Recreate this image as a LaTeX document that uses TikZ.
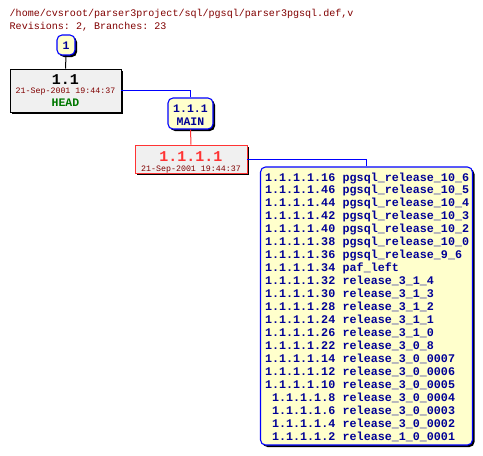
\documentclass[tikz,border=0pt]{standalone}
\usepackage{fontspec}
\setmonofont{Liberation Mono}
\usetikzlibrary{shadows}
\definecolor{titlered}{RGB}{128,0,0}
\definecolor{navytext}{RGB}{0,0,150}
\definecolor{linkblue}{RGB}{0,0,255}
\definecolor{headgreen}{RGB}{0,120,0}
\definecolor{revred}{RGB}{255,51,51}
\definecolor{boxyellow}{RGB}{255,255,204}
\definecolor{boxgray}{RGB}{240,240,240}
\tikzset{
  shad/.style={drop shadow={shadow xshift=2pt,shadow yshift=-2pt,opacity=1,fill=black}},
  tagbox/.style={shad,draw=linkblue,fill=boxyellow,rounded corners=5pt,line width=1.1pt,inner sep=0pt},
  revbox/.style={shad,fill=boxgray,inner sep=0pt,line width=0.9pt},
  txt/.style={inner sep=0pt,anchor=base,font=\ttfamily},
  brnum/.style={inner sep=0pt,anchor=base east,text=navytext,font=\ttfamily\bfseries\fontsize{11.7}{13}\selectfont},
  brname/.style={inner sep=0pt,anchor=base west,text=navytext,font=\ttfamily\bfseries\fontsize{11.7}{13}\selectfont},
}
\begin{document}
\begin{tikzpicture}[x=1pt,y=-1pt]
\useasboundingbox (0,0) rectangle (483,456);
% title
\node[txt,anchor=base west,text=titlered,font=\ttfamily\fontsize{10.05}{12}\selectfont] (t1) at (9.5,16.5) {/home/cvsroot/parser3project/sql/pgsql/parser3pgsql.def,v};
\node[txt,anchor=base west,text=titlered,font=\ttfamily\fontsize{10.05}{12}\selectfont] (t2) at (9.5,29) {Revisions: 2, Branches: 23};
% boxes
\node[tagbox,minimum width=18pt,minimum height=20pt] (c1) at (66,45) {};
\node[revbox,draw=black,minimum width=111pt,minimum height=43pt] (r11) at (65.5,90.5) {};
\node[tagbox,minimum width=45pt,minimum height=31pt] (main) at (190.5,113.5) {};
\node[revbox,draw=revred,minimum width=112pt,minimum height=28pt] (r1111) at (191,159) {};
\node[tagbox,minimum width=212pt,minimum height=278pt] (br) at (366.5,306) {};
% connectors
\draw[line width=1pt] (c1.south) -- (r11.north);
\draw[linkblue,line width=1pt] (r11.east) -| (main.north);
\draw[revred,line width=1pt] (main.south) -- (r1111.north);
\draw[linkblue,line width=1pt] (r1111.east) -| (br.north);
% texts
\node[txt,text=navytext,font=\ttfamily\bfseries\fontsize{11.5}{13}\selectfont] (c1t) at (66,49.5) {1};
\node[txt,font=\ttfamily\bfseries\fontsize{15}{17}\selectfont] (r11a) at (65.5,84.5) {1.1};
\node[txt,text=titlered,font=\ttfamily\fontsize{8.3}{10}\selectfont] (r11b) at (65.5,93.5) {21-Sep-2001 19:44:37};
\node[txt,text=headgreen,font=\ttfamily\bfseries\fontsize{11.5}{13}\selectfont] (r11c) at (65.5,106) {HEAD};
\node[txt,text=navytext,font=\ttfamily\bfseries\fontsize{11.5}{13}\selectfont] (maina) at (190.5,112) {1.1.1};
\node[txt,text=navytext,font=\ttfamily\bfseries\fontsize{11.5}{13}\selectfont] (mainb) at (190.5,125) {MAIN};
\node[txt,text=revred,font=\ttfamily\bfseries\fontsize{15}{17}\selectfont] (r1111a) at (191,161.5) {1.1.1.1};
\node[txt,text=titlered,font=\ttfamily\fontsize{8.3}{10}\selectfont] (r1111b) at (191,171) {21-Sep-2001 19:44:37};
% branch list
\foreach \n/\name [count=\i from 0] in {
 16/pgsql\_release\_10\_6,46/pgsql\_release\_10\_5,44/pgsql\_release\_10\_4,
 42/pgsql\_release\_10\_3,40/pgsql\_release\_10\_2,38/pgsql\_release\_10\_0,
 36/pgsql\_release\_9\_6,34/paf\_left,32/release\_3\_1\_4,30/release\_3\_1\_3,
 28/release\_3\_1\_2,24/release\_3\_1\_1,26/release\_3\_1\_0,22/release\_3\_0\_8,
 14/release\_3\_0\_0007,12/release\_3\_0\_0006,10/release\_3\_0\_0005,
 8/release\_3\_0\_0004,6/release\_3\_0\_0003,4/release\_3\_0\_0002,2/release\_1\_0\_0001}{
  \node[brnum] (bn\i) at (335.5,181+12.985*\i) {1.1.1.1.\n};
  \node[brname] (bm\i) at (342.5,181+12.985*\i) {\name};
}
\end{tikzpicture}
\end{document}
